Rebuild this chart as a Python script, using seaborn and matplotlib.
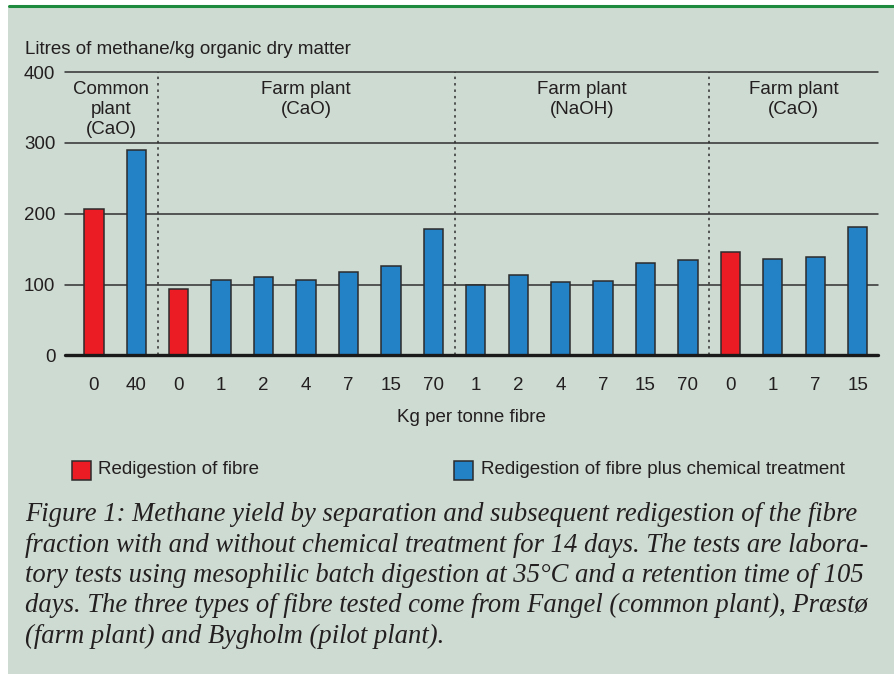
import pandas as pd
import matplotlib
matplotlib.use("Agg")
import matplotlib.pyplot as plt
import seaborn as sns
from matplotlib.patches import Rectangle
from matplotlib.lines import Line2D

# Data
kg_labels = ["0", "40", "0", "1", "2", "4", "7", "15", "70",
             "1", "2", "4", "7", "15", "70", "0", "1", "7", "15"]
methane = [207, 290, 94, 107, 110, 106, 118, 126, 179,
           99, 114, 103, 105, 130, 135, 146, 136, 139, 181]
treatment = ["fibre", "chem", "fibre", "chem", "chem", "chem", "chem", "chem", "chem",
             "chem", "chem", "chem", "chem", "chem", "chem", "fibre", "chem", "chem", "chem"]
group_names = ["Common\nplant\n(CaO)", "Farm plant\n(CaO)", "Farm plant\n(NaOH)", "Farm plant\n(CaO)"]
group_sizes = [2, 7, 6, 4]
legend_labels = {"fibre": "Redigestion of fibre",
                 "chem": "Redigestion of fibre plus chemical treatment"}

caption_lines = [
    "Figure 1: Methane yield by separation and subsequent redigestion of the fibre",
    "fraction with and without chemical treatment for 14 days. The tests are labora-",
    "tory tests using mesophilic batch digestion at 35°C and a retention time of 105",
    "days. The three types of fibre tested come from Fangel (common plant), Præstø",
    "(farm plant) and Bygholm (pilot plant).",
]

colors = {"fibre": "#ec1c24", "chem": "#2381c6"}
bg = "#cedbd2"
ink = "#231f20"
fs = 13.5

sns.set_style("white")
plt.rcParams["font.family"] = ["Liberation Sans", "DejaVu Sans"]

df = pd.DataFrame({"pos": range(len(methane)), "methane": methane, "treatment": treatment})

W, H = 895, 674
fig = plt.figure(figsize=(W / 100, H / 100), dpi=100, facecolor="white")

# panel background and green rule on top
fig.patches.append(Rectangle((8 / W, 0), 1 - 8 / W, 1 - 7 / H, transform=fig.transFigure,
                             facecolor=bg, edgecolor="none", zorder=-10))
fig.lines.append(Line2D([9 / W, 1], [1 - 5.5 / H, 1 - 5.5 / H], transform=fig.transFigure,
                        color="#1e8a3e", lw=2.2))

ax = fig.add_axes([65 / W, 1 - 355.3 / H, (878 - 65) / W, (355.3 - 72.2) / H])
ax.set_facecolor("none")

sns.barplot(data=df, x="pos", y="methane", hue="treatment", dodge=False,
            palette=colors, saturation=1, width=0.455, edgecolor="#2b2b2b", linewidth=1.1,
            legend=False, ax=ax, zorder=3)

ax.set_ylim(0, 400)
ax.set_xlim(-0.68, 18.48)
for s in ax.spines.values():
    s.set_visible(False)

yt = [0, 100, 200, 300, 400]
ax.set_yticks(yt)
for y in yt[1:]:
    ax.axhline(y, color="#2f2f2f", lw=1.1, zorder=1, clip_on=False)
ax.axhline(0, color="#1a1a1a", lw=2.4, zorder=5, clip_on=False)

ax.set_xticks(range(len(kg_labels)))
ax.set_xticklabels(kg_labels)
ax.tick_params(axis="x", length=0, pad=15.5, labelsize=fs, labelcolor=ink)
ax.tick_params(axis="y", length=0, pad=7, labelsize=fs, labelcolor=ink)
ax.set_xlabel("")
ax.set_ylabel("")

# group dividers and group labels
start = 0
for i, (name, n) in enumerate(zip(group_names, group_sizes)):
    end = start + n
    if i < len(group_sizes) - 1:
        ax.axvline(end - 0.5, color="#2f2f2f", lw=1.1, ls=(0, (1.6, 2.6)), zorder=2)
    left = start - 0.5 if i > 0 else -0.68
    right = end - 0.5 if i < len(group_sizes) - 1 else 18.48
    ax.text((left + right) / 2, 388, name, ha="center", va="top", fontsize=fs,
            color=ink, linespacing=1.25, zorder=6)
    start = end

fig.text(25 / W, 1 - 49 / H, "Litres of methane/kg organic dry matter",
         ha="left", va="center", fontsize=fs, color=ink)
fig.text(471 / W, 1 - 417 / H, "Kg per tonne fibre", ha="center", va="center",
         fontsize=fs, color=ink)

# legend
for key, x0, tx in [("fibre", 72, 98), ("chem", 454, 481)]:
    fig.patches.append(Rectangle((x0 / W, 1 - 480 / H), 19 / W, 19 / H, transform=fig.transFigure,
                                 facecolor=colors[key], edgecolor="#2b2b2b", lw=1.1))
    fig.text(tx / W, 1 - 470 / H, legend_labels[key], ha="left", va="center",
             fontsize=fs, color=ink)

# caption: fit font size to the width of the reference block
cap_kw = dict(family="Liberation Serif", style="italic", color=ink, ha="left", va="baseline")
renderer = fig.canvas.get_renderer()
probe = [fig.text(0, 0, line, fontsize=10, **cap_kw) for line in caption_lines]
widest = max(t.get_window_extent(renderer).width for t in probe)
for t in probe:
    t.remove()
cap_fs = 10 * (868 - 25) / widest
for k, line in enumerate(caption_lines):
    fig.text(25 / W, 1 - (521 + 30.5 * k) / H, line, fontsize=cap_fs, **cap_kw)

fig.savefig("out.png", dpi=100, facecolor="white")
